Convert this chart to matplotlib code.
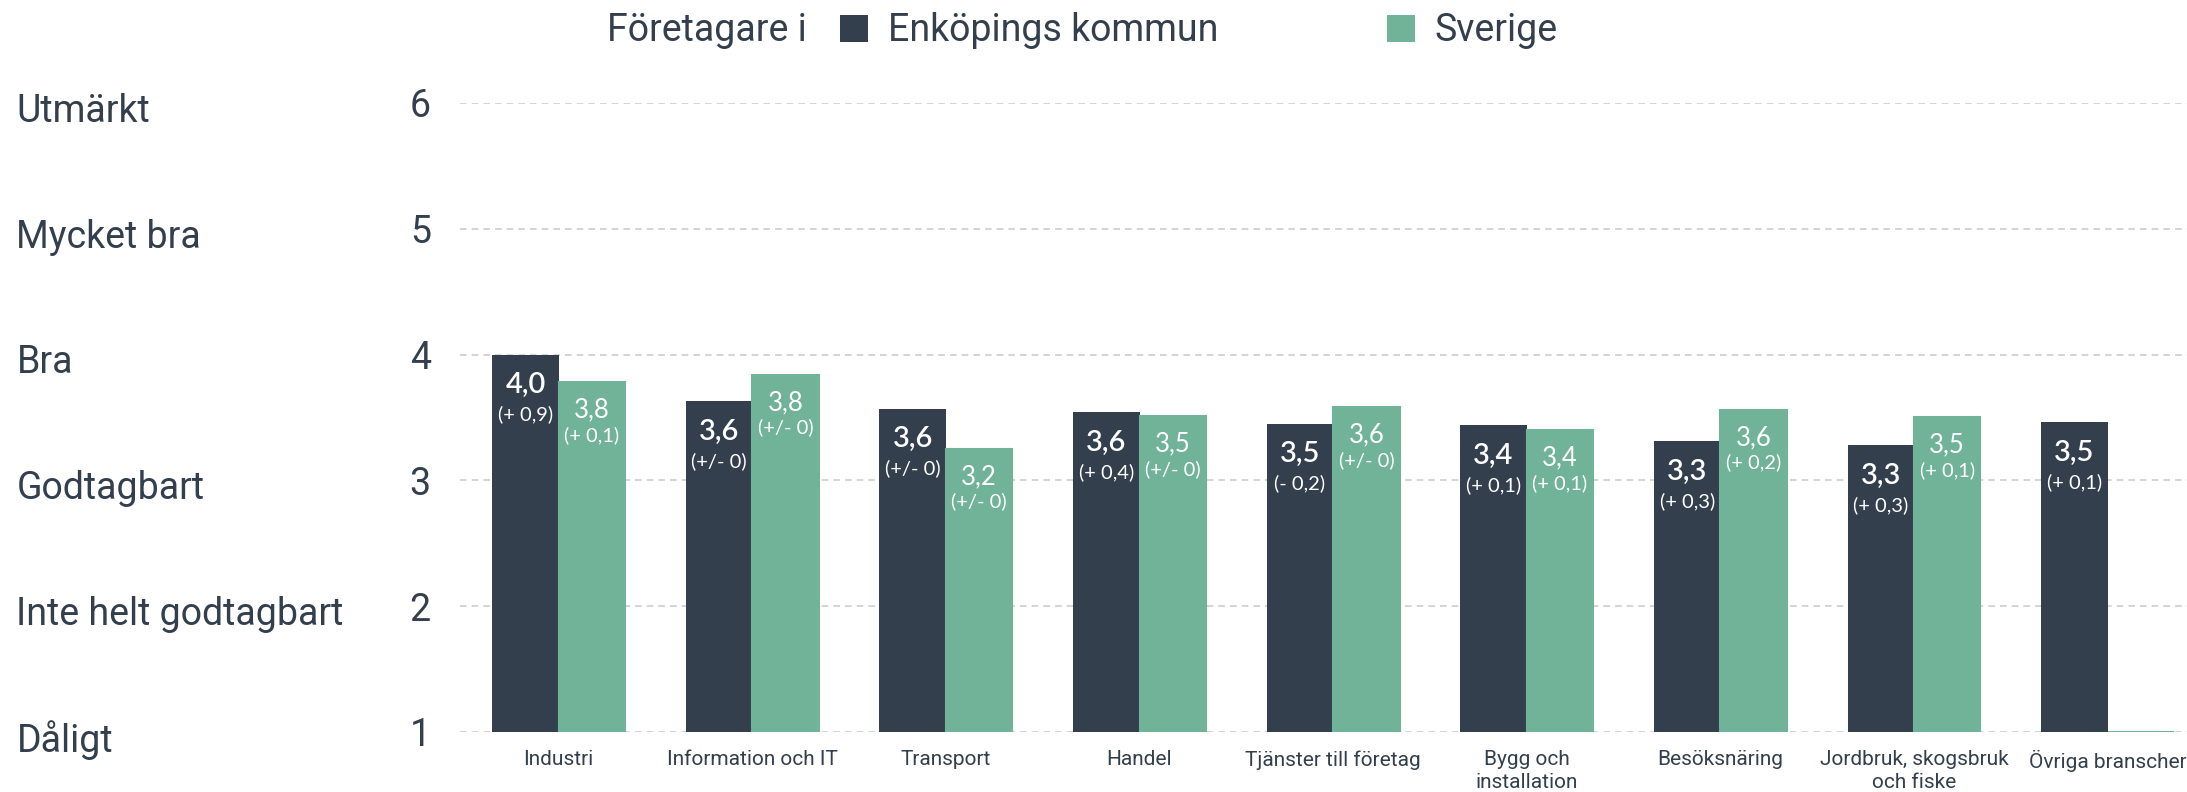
import numpy as np
import matplotlib.pyplot as plt
from matplotlib.transforms import blended_transform_factory
from matplotlib.patches import Patch

categories = ['Industri', 'Information och IT', 'Transport', 'Handel', 'Tjänster till företag',
              'Bygg och\ninstallation', 'Besöksnäring', 'Jordbruk, skogsbruk\noch fiske', 'Övriga branscher']
enkoping = [4.00, 3.63, 3.57, 3.54, 3.45, 3.44, 3.31, 3.28, 3.46]
sverige = [3.78, 3.84, 3.25, 3.51, 3.58, 3.40, 3.56, 3.50, 1.0]
enk_labels = ['4,0', '3,6', '3,6', '3,6', '3,5', '3,4', '3,3', '3,3', '3,5']
enk_change = ['(+ 0,9)', '(+/- 0)', '(+/- 0)', '(+ 0,4)', '(- 0,2)', '(+ 0,1)', '(+ 0,3)', '(+ 0,3)', '(+ 0,1)']
sve_labels = ['3,8', '3,8', '3,2', '3,5', '3,6', '3,4', '3,6', '3,5', None]
sve_change = ['(+ 0,1)', '(+/- 0)', '(+/- 0)', '(+/- 0)', '(+/- 0)', '(+ 0,1)', '(+ 0,2)', '(+ 0,1)', None]
scale_ticks = [1, 2, 3, 4, 5, 6]
scale_names = ['Dåligt', 'Inte helt godtagbart', 'Godtagbart', 'Bra', 'Mycket bra', 'Utmärkt']

DARK = '#333f4d'
GREEN = '#70b398'
TXT = '#333f4d'
plt.rcParams['font.family'] = ['Roboto', 'DejaVu Sans']

fig = plt.figure(figsize=(21.87, 7.92), dpi=100)
ax = fig.add_axes([0.2103, 0.0758, 0.7897, 0.7942])

x = np.arange(len(categories))
w = 0.343
base = 1
b1 = ax.bar(x - w / 2, np.array(enkoping) - base, w, bottom=base, color=DARK, label='Enköpings kommun', zorder=3)
b2 = ax.bar(x + w / 2, np.array(sverige) - base, w, bottom=base, color=GREEN, edgecolor=GREEN,
            linewidth=1.5, label='Sverige', zorder=3)

for i in range(len(categories)):
    ax.annotate(enk_labels[i], (x[i] - w / 2, enkoping[i]), xytext=(0, -22), textcoords='offset points',
                ha='center', va='center', color='white', fontsize=21, family='Lato', fontweight='semibold', zorder=4)
    ax.annotate(enk_change[i], (x[i] - w / 2, enkoping[i]), xytext=(0, -43), textcoords='offset points',
                ha='center', va='center', color='white', fontsize=14.5, family='Lato', zorder=4)
    if sve_labels[i]:
        ax.annotate(sve_labels[i], (x[i] + w / 2, sverige[i]), xytext=(0, -20), textcoords='offset points',
                    ha='center', va='center', color='white', fontsize=18.5, family='Lato', zorder=4)
        ax.annotate(sve_change[i], (x[i] + w / 2, sverige[i]), xytext=(0, -38), textcoords='offset points',
                    ha='center', va='center', color='white', fontsize=14.5, family='Lato', zorder=4)

ax.set_xlim(-0.51, 8.41)
ax.set_ylim(1, 6)
ax.set_yticks(scale_ticks)
ax.set_yticklabels([str(t) for t in scale_ticks], fontsize=27, color=TXT)
ax.set_xticks(x)
ax.set_xticklabels(categories, fontsize=15, color=TXT, linespacing=1.24)
ax.tick_params(axis='y', length=0, pad=21)
ax.tick_params(axis='x', length=0, pad=13)
for s in ax.spines.values():
    s.set_visible(False)
ax.grid(axis='y', color='#cdcdcd', linestyle=(0, (4, 3)), linewidth=1.2, zorder=0)
ax.set_axisbelow(True)

# scale names to the far left, a bit below each gridline
tr = blended_transform_factory(fig.transFigure, ax.transData)
for t, name in zip(scale_ticks, scale_names):
    ax.annotate(name, (0.0075, t), xycoords=tr, xytext=(0, -6), textcoords='offset points',
                ha='left', va='center', fontsize=27, color=TXT, annotation_clip=False)

fig.text(0.2775, 0.961, 'Företagare i', ha='left', va='center', fontsize=27, color=TXT)
handles = [Patch(facecolor=DARK), Patch(facecolor=GREEN)]
fig.legend(handles, ['Enköpings kommun', 'Sverige'], loc='center left', bbox_to_anchor=(0.384, 0.961),
           ncol=2, frameon=False, fontsize=27, handlelength=0.75, handleheight=0.75, handletextpad=0.53,
           columnspacing=4.5, borderpad=0, borderaxespad=0, labelcolor=TXT)

fig.savefig('out.png', dpi=100)
